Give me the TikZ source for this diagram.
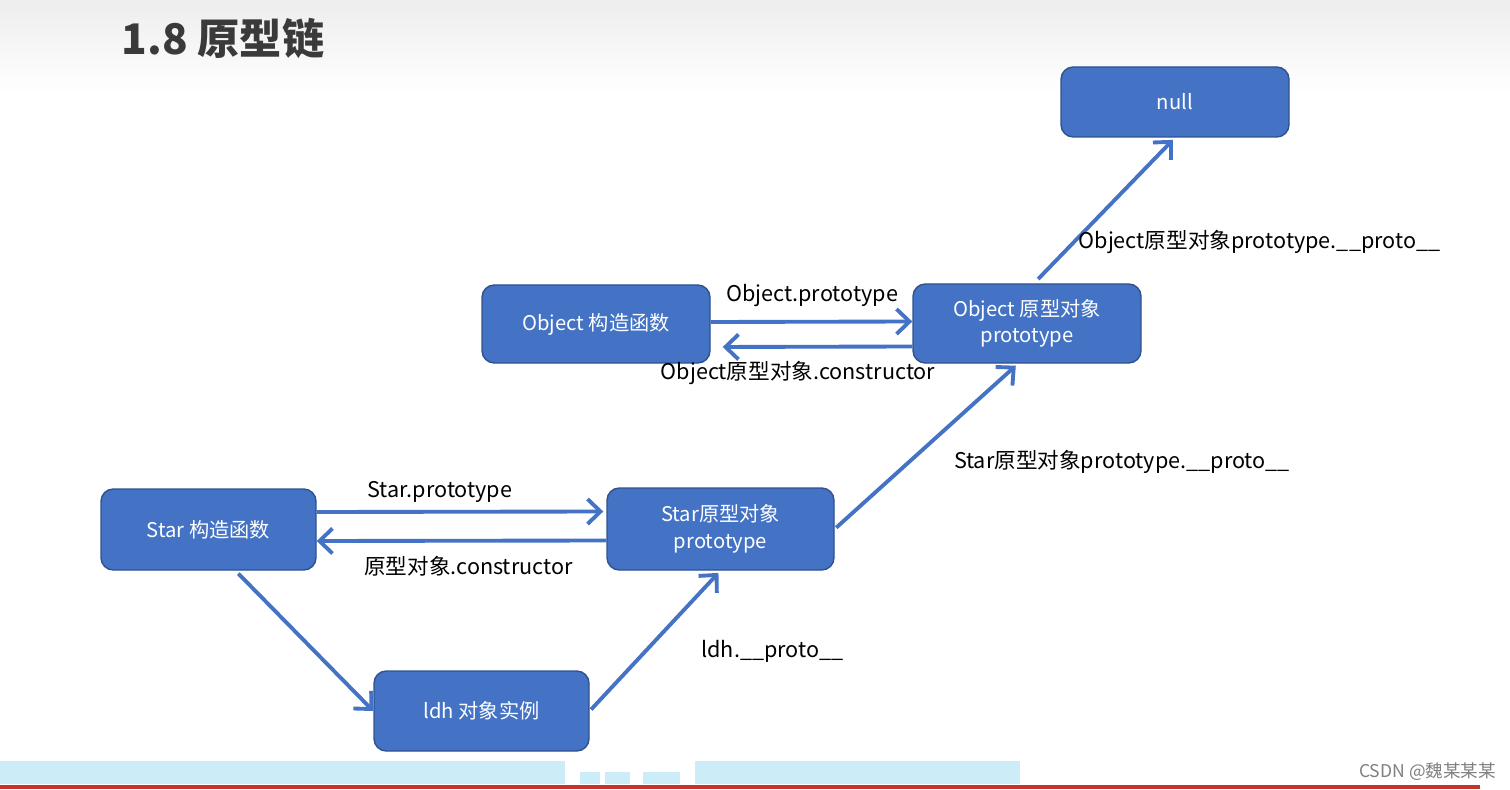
\documentclass[tikz,border=0pt]{standalone}
\usepackage{fontspec}
\setmainfont{Noto Sans CJK SC}
\usepackage{xcolor}
\usetikzlibrary{arrows.meta, positioning, calc}
\definecolor{boxblue}{RGB}{68,114,196}
\definecolor{boxedge}{RGB}{47,82,143}
\definecolor{titlegray}{RGB}{58,58,58}
\definecolor{bandblue}{RGB}{204,236,248}
\definecolor{barred}{RGB}{196,52,44}

\begin{document}
\begin{tikzpicture}[
    block/.style={rectangle, rounded corners=7pt, draw=boxedge, line width=0.8pt, fill=boxblue, text=white, align=center, minimum width=4.56cm, minimum height=1.56cm, font=\fontsize{11.5}{15}\selectfont},
    arrow/.style={-{Straight Barb[length=2.6mm, width=5mm]}, line width=2.2pt, draw=boxblue},
    lbl/.style={font=\fontsize{12.3}{14}\selectfont, text=black, inner sep=1pt}
]
    % Page and background
    \useasboundingbox (0,0) rectangle (30.2,15.78);
    \fill[white] (0,0) rectangle (30.2,15.78);
    \shade[top color=gray!14, bottom color=white] (0,13.9) rectangle (30.2,15.78);
    \fill[bandblue] (0,0.1) rectangle (11.3,0.56);
    \fill[bandblue] (11.6,0.1) rectangle (12.0,0.34);
    \fill[bandblue] (12.1,0.1) rectangle (12.6,0.34);
    \fill[bandblue] (12.85,0.1) rectangle (13.6,0.34);
    \fill[bandblue] (13.9,0.1) rectangle (20.4,0.56);
    \fill[barred] (0,0) rectangle (29.6,0.08);

    % Title
    \node[font=\fontsize{24}{28}\selectfont\bfseries, text=titlegray] (title) at (4.46,15.02) {1.8 原型链};

    % Top level
    \node[block, minimum height=1.4cm] (null) at (23.5,13.74) {null};

    % Object
    \node[block] (objfn) at (11.92,9.30) {Object 构造函数};
    \node[block, minimum height=1.58cm] (objproto) at (20.54,9.31) {Object 原型对象\\prototype};

    % Star
    \node[block, minimum width=4.3cm, minimum height=1.62cm] (starfn) at (4.17,5.19) {Star 构造函数};
    \node[block, minimum width=4.54cm, minimum height=1.64cm] (starproto) at (14.41,5.2) {Star原型对象\\prototype};

    % Instance
    \node[block, minimum width=4.3cm, minimum height=1.6cm] (ldh) at (9.63,1.56) {ldh 对象实例};

    % Connections
    \draw[arrow] ([yshift=0.04cm]objfn.east) -- ([yshift=0.04cm]objproto.west);
    \draw[arrow, shorten >=0.24cm] ([yshift=-0.46cm]objproto.west) -- ([yshift=-0.46cm]objfn.east);
    \draw[arrow] ([yshift=0.35cm]starfn.east) -- ([yshift=0.35cm, xshift=-0.06cm]starproto.west);
    \draw[arrow] ([yshift=-0.23cm]starproto.west) -- ([yshift=-0.23cm]starfn.east);
    \draw[arrow, shorten <=0.08cm] ([xshift=0.54cm]starfn.south) -- (ldh.west);
    \draw[arrow, shorten <=0.04cm, shorten >=0.06cm] (ldh.east) -- (starproto.south);
    \draw[arrow, shorten <=0.04cm, shorten >=0.06cm] (starproto.east) -- ([xshift=-0.18cm]objproto.south);
    \draw[arrow, shorten <=0.12cm, shorten >=0.06cm] ([xshift=0.14cm]objproto.north) -- (null.south);

    % Link labels
    \node[lbl] (l_objproto) at (16.24,9.86) {Object.prototype};
    \node[lbl] (l_objctor) at (15.96,8.32) {Object原型对象.constructor};
    \node[lbl] (l_starproto) at (8.8,5.94) {Star.prototype};
    \node[lbl] (l_starctor) at (9.37,4.46) {原型对象.constructor};
    \node[lbl] (l_ldh) at (15.45,2.76) {ldh.\_\_proto\_\_};
    \node[lbl] (l_starup) at (22.44,6.54) {Star原型对象prototype.\_\_proto\_\_};
    \node[lbl] (l_objup) at (25.19,10.94) {Object原型对象prototype.\_\_proto\_\_};

    % Watermark
    \node[font=\fontsize{10}{12}\selectfont, text=gray] (mark) at (28.55,0.34) {CSDN @魏某某某};

\end{tikzpicture}
\end{document}
